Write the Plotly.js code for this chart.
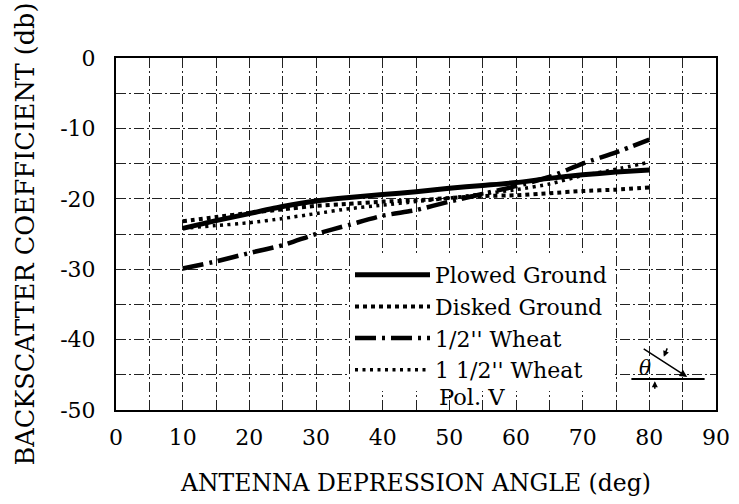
<!DOCTYPE html>
<html>
<head>
<meta charset="utf-8">
<script src="https://cdn.plot.ly/plotly-3.0.1.min.js"></script>
<style>html,body{margin:0;padding:0;background:#fff;}</style>
</head>
<body>
<div id="chart" style="width:739px;height:504px;"></div>
<script>
// Antenna depression angle (deg)
const angles = [10, 15, 20, 25, 30, 35, 40, 45, 50, 55, 60, 65, 70, 75, 80];
// Backscatter coefficient (db), polarization V
const plowedGround = [-24.2, -23.1, -22.1, -21.1, -20.3, -19.8, -19.4, -19.0, -18.5, -18.1, -17.7, -17.1, -16.6, -16.2, -15.9];
const diskedGround = [-23.2, -22.6, -22.0, -21.5, -21.0, -20.7, -20.4, -20.2, -19.9, -19.6, -19.5, -19.2, -18.9, -18.7, -18.4];
const halfInchWheat = [-29.9, -28.9, -27.7, -26.6, -25.0, -23.7, -22.4, -21.6, -20.4, -19.3, -18.2, -16.9, -15.0, -13.4, -11.6];
const oneHalfInchWheat = [-24.2, -23.8, -23.4, -22.8, -22.1, -21.4, -20.9, -20.4, -19.9, -19.3, -18.7, -17.9, -16.7, -15.8, -14.8];
const seriesNames = ["Plowed Ground", "Disked Ground", "1/2'' Wheat", "1 1/2'' Wheat"];
const xTickVals = [0, 10, 20, 30, 40, 50, 60, 70, 80, 90];
const xTickText = ["0", "10", "20", "30", "40", "50", "60", "70", "80", "90"];
const yTickVals = [0, -10, -20, -30, -40, -50];
const yTickText = ["0", "-10", "-20", "-30", "-40", "-50"];

const FONT = "DejaVu Serif, Liberation Serif, serif";
const gridDash = "10px,3px,2px,3px";

const traces = [
  {x: angles, y: plowedGround, name: seriesNames[0], mode: "lines",
   line: {color: "#000", width: 5, shape: "spline", smoothing: 0.6}},
  {x: angles, y: diskedGround, name: seriesNames[1], mode: "lines",
   line: {color: "#000", width: 4, dash: "4px,4px", shape: "spline", smoothing: 0.6}},
  {x: angles, y: halfInchWheat, name: seriesNames[2], mode: "lines",
   line: {color: "#000", width: 4.5, dash: "21px,6px,3px,6px", shape: "spline", smoothing: 0.6}},
  {x: angles, y: oneHalfInchWheat, name: seriesNames[3], mode: "lines",
   line: {color: "#000", width: 3.5, dash: "3px,4.5px", shape: "spline", smoothing: 0.6}}
];

const layout = {
  width: 739, height: 504,
  margin: {l: 116, r: 23, t: 58, b: 94},
  paper_bgcolor: "#fff", plot_bgcolor: "#fff",
  font: {family: FONT, size: 22, color: "#000"},
  showlegend: true,
  legend: {x: 0.39, y: 0.443, xanchor: "left", yanchor: "top",
           bgcolor: "#fff", borderwidth: 0,
           font: {family: FONT, size: 22, color: "#000"},
           itemwidth: 75, tracegroupgap: 0},
  xaxis: {range: [0, 90], tickvals: xTickVals, ticktext: xTickText,
          showline: true, linecolor: "#000", linewidth: 2, mirror: true,
          ticks: "outside", ticklen: 0, ticklabelstandoff: 7,
          showgrid: true, gridcolor: "#222", gridwidth: 1, griddash: gridDash,
          minor: {dtick: 5, showgrid: true, gridcolor: "#222", gridwidth: 1, griddash: gridDash},
          zeroline: false, tickfont: {family: FONT, size: 22},
          title: {text: "ANTENNA DEPRESSION ANGLE (deg)", font: {family: FONT, size: 23.5}, standoff: 25}},
  yaxis: {range: [-50, 0], tickvals: yTickVals, ticktext: yTickText,
          showline: true, linecolor: "#000", linewidth: 2, mirror: true,
          ticks: "outside", ticklen: 0, ticklabelstandoff: 14,
          showgrid: true, gridcolor: "#222", gridwidth: 1, griddash: gridDash,
          minor: {dtick: 5, showgrid: true, gridcolor: "#222", gridwidth: 1, griddash: gridDash},
          zeroline: false, tickfont: {family: FONT, size: 22},
          title: {text: "BACKSCATTER COEFFICIENT (db)", font: {family: FONT, size: 25.5}, standoff: 18}},
  shapes: [
    {type: "path", xref: "paper", yref: "paper", layer: "between",
     path: "M 0.39 0.426 L 0.851 0.426 L 0.851 0.298 L 0.997 0.298 L 0.997 0.004 L 0.523 0.004 L 0.523 0.077 L 0.39 0.077 Z",
     fillcolor: "#fff", line: {width: 0}},
    {type: "line", xref: "paper", yref: "paper", x0: 0.859, x1: 0.981, y0: 0.088, y1: 0.088,
     line: {color: "#000", width: 2}}
  ],
  annotations: [
    {xref: "paper", yref: "paper", x: 0.535, y: 0.038, xanchor: "left", yanchor: "middle",
     text: "Pol. V", showarrow: false, font: {family: FONT, size: 22.5}},
    {xref: "paper", yref: "paper", x: 0.881, y: 0.119, xanchor: "center", yanchor: "middle",
     text: "<i>θ</i>", showarrow: false, font: {family: FONT, size: 20}},
    {xref: "paper", yref: "paper", x: 0.952, y: 0.094, ax: -45, ay: -29, text: "",
     showarrow: true, arrowhead: 2, arrowsize: 1, arrowwidth: 1.5, arrowcolor: "#000"},
    {xref: "paper", yref: "paper", x: 0.913, y: 0.151, ax: 4, ay: -10, text: "",
     showarrow: true, arrowhead: 2, arrowsize: 0.8, arrowwidth: 1.5, arrowcolor: "#000"},
    {xref: "paper", yref: "paper", x: 0.898, y: 0.082, ax: 0, ay: 9, text: "",
     showarrow: true, arrowhead: 2, arrowsize: 0.8, arrowwidth: 1.5, arrowcolor: "#000"}
  ]
};

Plotly.newPlot("chart", traces, layout, {displayModeBar: false, staticPlot: true});
</script>
</body>
</html>
